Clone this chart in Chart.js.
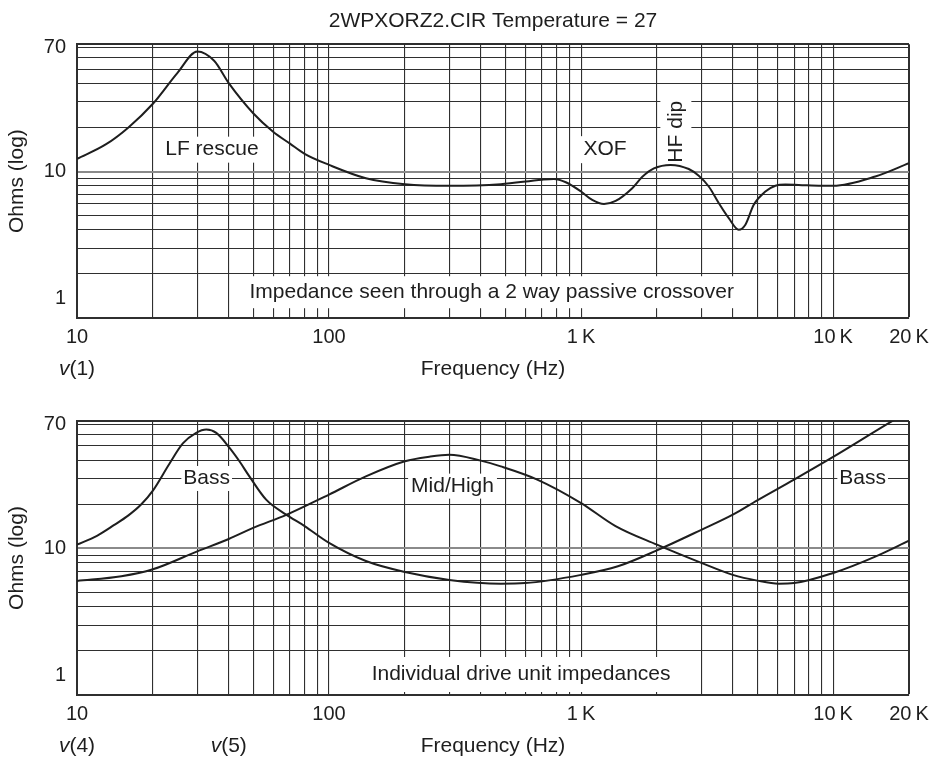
<!DOCTYPE html>
<html><head><meta charset="utf-8">
<script src="https://cdn.jsdelivr.net/npm/chart.js@4.4.1/dist/chart.umd.min.js"></script>
<style>
html,body{margin:0;padding:0;background:#fff;width:931px;height:759px;overflow:hidden;}
#c1{position:absolute;left:0;top:0;}
#c2{position:absolute;left:0;top:377px;}
</style></head><body>
<canvas id="c1" width="931" height="390"></canvas>
<canvas id="c2" width="931" height="382"></canvas>
<script>
// ---------- data ----------
const chartTitle = '2WPXORZ2.CIR Temperature = 27';
const xAxisTitle = 'Frequency (Hz)';
const yAxisTitle = 'Ohms (log)';

// top panel: impedance through crossover, trace v(1)
const v1Freq = [10, 13, 16, 20, 25, 30, 35, 40, 50, 60, 70, 80, 100, 140, 200, 300, 480, 700, 780, 870, 1000, 1107, 1233, 1371, 1596, 1750, 1945, 2265, 2675, 2930, 3210, 3516, 3855, 4220, 4486, 4842, 5385, 5900, 6466, 7300, 9000, 10000, 14700, 20000];
const v1Ohms = [12.2, 15.3, 20, 29, 47, 66, 57, 40.1, 25, 18.7, 15.5, 13.2, 11.1, 9.0, 8.2, 8.0, 8.2, 8.8, 8.9, 8.45, 7.3, 6.4, 6.0, 6.3, 7.7, 9.2, 10.5, 11.1, 10.4, 9.35, 7.9, 6.1, 4.8, 4.0, 4.33, 5.93, 7.3, 8.0, 8.15, 8.1, 8.0, 8.0, 9.25, 11.4];

// bottom panel: bass unit, trace v(4)
const bassFreq = [10, 12, 14, 16, 18, 20, 23.3, 26.3, 29.7, 32.6, 35.7, 40.3, 44.1, 48.3, 56.3, 67.6, 80, 100, 140, 200, 300, 480, 600, 1000, 1400, 2000, 3000, 4000, 5000, 7000, 10000, 17400, 20000];
const bassOhms = [10.6, 12.2, 14.4, 16.8, 20, 24.8, 38, 52, 61.4, 64.7, 61.4, 48.5, 39.3, 31, 21.5, 17, 14.2, 10.9, 8.2, 6.9, 6.1, 5.75, 5.8, 6.6, 7.55, 9.7, 13.4, 17, 21.3, 29.5, 42.1, 75, 86];

// bottom panel: mid/high unit, trace v(5)
const midFreq = [10, 15, 20, 30, 40, 50, 68, 100, 140, 200, 250, 300, 400, 480, 670, 1000, 1370, 2000, 3000, 4000, 5000, 6080, 7000, 10000, 14700, 20000];
const midOhms = [6.0, 6.45, 7.2, 9.55, 11.6, 13.8, 17, 23.3, 31, 39.3, 42.2, 43.5, 39.7, 36.3, 29.5, 20.4, 14.2, 10.6, 7.96, 6.6, 6.03, 5.75, 5.8, 6.8, 8.8, 11.3];

// axes: grid values and tick labels
const xGridValues = [10,20,30,40,50,60,70,80,90,100,200,300,400,500,600,700,800,900,1000,2000,3000,4000,5000,6000,7000,8000,9000,10000,20000];
const xTickValues = [10, 100, 1000, 10000, 20000];
const xTickText   = ['10', '100', '1\u2009K', '10\u2009K', '20\u2009K'];
const yGridValues = [1,2,3,4,5,6,7,8,9,10,20,30,40,50,60,70,74];
const yTickValues = [1, 10, 70];
const yTickText   = ['1', '10', '70'];

// text annotations (anchored in data units)
const topNotes = [
  {text: 'LF rescue', f: 34.3, z: 14.1, padX: 3, padY: 2.5},
  {text: 'XOF', f: 1245, z: 14.1, padX: 3, padY: 3},
  {text: 'HF dip', f: 2377, z: 18.7, padX: 2, padY: 5, rotate: true},
  {text: 'Impedance seen through a 2 way passive crossover', f: 442, z: 1.5, padX: 7, padY: 5.5}
];
const bottomNotes = [
  {text: 'Bass', f: 32.7, z: 30, padX: 2, padY: 2},
  {text: 'Mid/High', f: 309, z: 26.6, padX: 3, padY: 2},
  {text: 'Bass', f: 13100, z: 30, padX: 2, padY: 2},
  {text: 'Individual drive unit impedances', f: 578, z: 1.38, padX: 10, padY: 7}
];
const topTraces = [{name: '1', f: 10}];
const bottomTraces = [{name: '4', f: 10}, {name: '5', f: 40}];

// ---------- rendering ----------
const FAMILY = '"Liberation Sans", Arial, Helvetica, sans-serif';
const INK = '#1e1e1e';
Chart.defaults.font.family = FAMILY;
Chart.defaults.color = INK;

const pts = (fs, zs) => fs.map((f, i) => ({x: f, y: zs[i]}));

const notesPlugin = {
  id: 'notes',
  beforeDatasetsDraw(chart, args, opts) {
    const {ctx} = chart, xs = chart.scales.x, ys = chart.scales.y;
    const size = 21;
    ctx.save();
    ctx.font = size + 'px ' + FAMILY;
    (opts.items || []).forEach(a => {
      const px = xs.getPixelForValue(a.f), py = ys.getPixelForValue(a.z);
      const w = ctx.measureText(a.text).width;
      ctx.save();
      ctx.translate(px, py);
      if (a.rotate) ctx.rotate(-Math.PI / 2);
      ctx.fillStyle = '#fff';
      ctx.fillRect(-w / 2 - a.padX, -size / 2 - a.padY, w + 2 * a.padX, size + 2 * a.padY);
      ctx.fillStyle = INK;
      ctx.textAlign = 'center';
      ctx.textBaseline = 'middle';
      ctx.fillText(a.text, 0, 0);
      ctx.restore();
    });
    ctx.restore();
  },
  afterDraw(chart, args, opts) {
    const {ctx} = chart, xs = chart.scales.x;
    const size = 21;
    const y = xs.bottom - size * 1.2 / 2;
    ctx.save();
    ctx.fillStyle = INK;
    ctx.textBaseline = 'middle';
    ctx.textAlign = 'left';
    (opts.traces || []).forEach(t => {
      const cx = xs.getPixelForValue(t.f);
      ctx.font = 'italic ' + size + 'px ' + FAMILY;
      const wv = ctx.measureText('v').width;
      ctx.font = size + 'px ' + FAMILY;
      const rest = '(' + t.name + ')';
      const wr = ctx.measureText(rest).width;
      const x0 = cx - (wv + wr) / 2;
      ctx.font = 'italic ' + size + 'px ' + FAMILY;
      ctx.fillText('v', x0, y);
      ctx.font = size + 'px ' + FAMILY;
      ctx.fillText(rest, x0 + wv, y);
    });
    ctx.restore();
  }
};

function makeChart(id, datasets, notes, traces, withTitle) {
  return new Chart(document.getElementById(id), {
    type: 'scatter',
    data: {datasets: datasets.map(d => ({
      data: d, showLine: true, borderColor: INK, borderWidth: 2,
      pointRadius: 0, pointHoverRadius: 0, fill: false,
      cubicInterpolationMode: 'monotone'
    }))},
    options: {
      responsive: false, animation: false, devicePixelRatio: 1,
      events: [],
      layout: {padding: {left: 0, right: 22, top: withTitle ? 0 : 44, bottom: withTitle ? 8 : 0}},
      plugins: {
        legend: {display: false},
        tooltip: {enabled: false},
        title: {
          display: withTitle, text: chartTitle, fullSize: false,
          font: {size: 21, weight: 'normal', family: FAMILY}, color: INK,
          padding: {top: 9, bottom: 10}
        },
        notes: {items: notes, traces: traces}
      },
      scales: {
        x: {
          type: 'logarithmic', min: 10, max: 20000,
          afterBuildTicks: s => { s.ticks = xGridValues.map(v => ({value: v})); },
          afterFit: s => { s.height = 64; s.paddingLeft = 0; s.paddingRight = 0; },
          ticks: {
            autoSkip: false, maxRotation: 0, minRotation: 0, padding: 7,
            font: {size: 20}, color: INK,
            callback: v => { const i = xTickValues.indexOf(v); return i >= 0 ? xTickText[i] : ''; }
          },
          grid: {
            drawTicks: false, color: '#2f2f2f',
            lineWidth: c => (c.tick && c.tick.value === 20000) ? 2 : 1.1
          },
          border: {display: true, color: '#2f2f2f', width: 2},
          title: {display: true, text: xAxisTitle, font: {size: 21}, color: INK, padding: {top: 0, bottom: 0}}
        },
        y: {
          type: 'logarithmic', min: 1, max: 74,
          afterBuildTicks: s => { s.ticks = yGridValues.map(v => ({value: v})); },
          afterFit: s => { s.width = 77; },
          ticks: {
            autoSkip: false, padding: 11, font: {size: 20, lineHeight: 1}, color: INK,
            callback: v => {
              const i = yTickValues.indexOf(v);
              if (i < 0) return '';
              return v === 1 ? [yTickText[i], '', ''] : yTickText[i];
            }
          },
          grid: {
            drawTicks: false,
            color: c => (c.tick && c.tick.value === 10) ? '#8a8a8a' : '#2f2f2f',
            lineWidth: c => {
              const v = c.tick && c.tick.value;
              return v === 74 ? 2 : (v === 10 ? 2 : 1.1);
            }
          },
          border: {display: true, color: '#2f2f2f', width: 2},
          title: {display: true, text: yAxisTitle, font: {size: 21}, color: INK, padding: {top: 5, bottom: 0}}
        }
      }
    },
    plugins: [notesPlugin]
  });
}

makeChart('c1', [pts(v1Freq, v1Ohms)], topNotes, topTraces, true);
makeChart('c2', [pts(bassFreq, bassOhms), pts(midFreq, midOhms)], bottomNotes, bottomTraces, false);
</script>
</body></html>
